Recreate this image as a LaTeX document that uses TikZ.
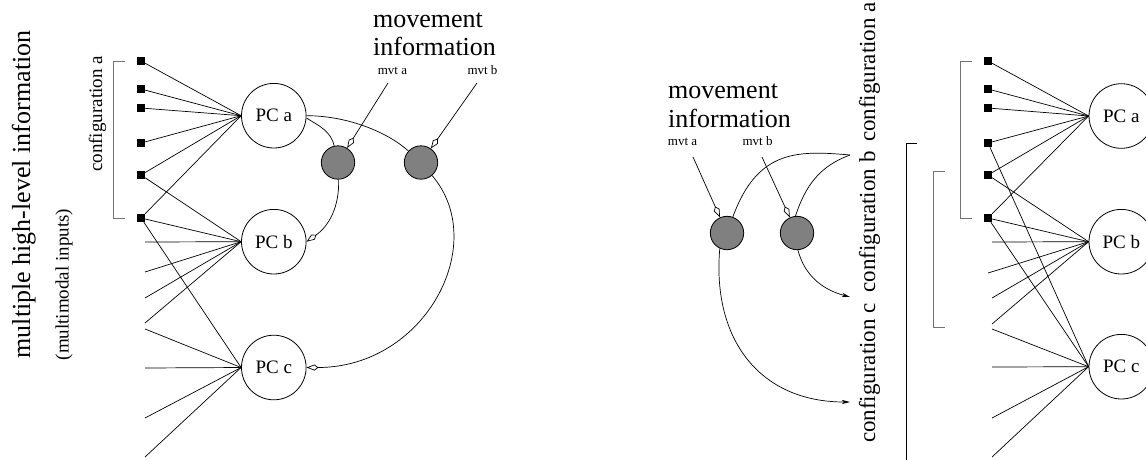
\documentclass[tikz,border=0pt]{standalone}
\usepackage{fontspec}
\setmainfont{Liberation Serif}
\usetikzlibrary{arrows.meta}
\begin{document}
\begin{tikzpicture}[x=1pt,y=1pt,
  pc/.style={circle,draw,line width=0.8pt,minimum size=64.6pt,inner sep=0pt,font=\fontsize{19}{21}\selectfont},
  gate/.style={circle,draw,line width=0.8pt,fill=black!50,minimum size=33.4pt,inner sep=0pt},
  sq/.style={rectangle,fill=black,minimum size=8pt,inner sep=0pt},
  wire/.style={line width=0.7pt},
  kite/.style={-{Kite[open,length=12pt,width=6pt,inset=4pt,line width=0.7pt]}},
  stl/.style={-{Stealth[length=8pt,width=4pt,inset=2pt]}},
  brk/.style={line width=0.8pt,draw=black!55},
  bigtxt/.style={inner sep=0pt,font=\fontsize{26}{28}\selectfont},
  midtxt/.style={inner sep=0pt,font=\fontsize{19}{21}\selectfont},
  conftxt/.style={inner sep=0pt,font=\fontsize{23}{25}\selectfont},
  tinytxt/.style={inner sep=0pt,font=\fontsize{13}{15}\selectfont}]
\useasboundingbox (0,0) rectangle (1146,-459);

% ---------------- left panel ----------------
\node[pc] (pca) at (273.8,-115.7) {PC a};
\node[pc] (pcb) at (273.8,-241.7) {PC b};
\node[pc] (pcc) at (273.8,-367.5) {PC c};
\node[gate] (ga) at (338,-162.5) {};
\node[gate] (gb) at (421,-162.5) {};
\foreach \i/\y in {1/61,2/89,3/108,4/143,5/175,6/218}
  \node[sq] (ls\i) at (141,-\y) {};
\foreach \i/\y in {1/242,2/272,3/298,4/323,5/329,6/368,7/418,8/457}
  \coordinate (le\i) at (145,-\y);
\foreach \i in {1,...,6} \draw[wire] (ls\i) -- (pca.west);
\foreach \n in {ls5,ls6,le1,le2,le3,le4} \draw[wire] (\n) -- (pcb.west);
\foreach \n in {ls6,le5,le6,le7,le8} \draw[wire] (\n) -- (pcc.west);

\draw[wire] (pca.-4) to[out=-32,in=103] (ga);
\draw[wire,kite] (ga) to[out=-88,in=35] (pcb.east);
\draw[wire] (pca.east) .. controls (348.2,-115.7) and (388.2,-132.6) .. (gb);
\draw[wire,kite] (gb) .. controls (490.5,-244) and (425,-367.5) .. (pcc.east);

\coordinate (ma) at (388,-83);
\coordinate (mb) at (477,-83);
\draw[wire,kite] (ma) -- (ga);
\draw[wire,kite] (mb) -- (gb);

\node[bigtxt,anchor=base west] (mvL1) at (373,-27) {movement};
\node[bigtxt,anchor=base west] (mvL2) at (373,-55) {information};
\node[tinytxt,anchor=base] (mvtaL) at (392.5,-74) {mvt a};
\node[tinytxt,anchor=base] (mvtbL) at (482.5,-74) {mvt b};

\node[bigtxt,rotate=90,anchor=base] (multi) at (30,-194.5) {multiple high-level information};
\node[midtxt,rotate=90,anchor=base] (mmodal) at (68.5,-284.5) {(multimodal inputs)};
\node[midtxt,rotate=90,anchor=base] (cfgL) at (102,-114) {configuration a};
\draw[brk] (125,-61) -- (113,-61) -- (113,-218) -- (125,-218);

% ---------------- right panel ----------------
\node[pc] (rpca) at (1121.3,-116) {PC a};
\node[pc] (rpcb) at (1121.3,-241.7) {PC b};
\node[pc] (rpcc) at (1121.3,-366.7) {PC c};
\node[gate] (rga) at (727,-233) {};
\node[gate] (rgb) at (797,-233) {};
\foreach \i/\y in {1/61,2/89,3/108,4/143,5/175,6/218}
  \node[sq] (rs\i) at (988,-\y) {};
\foreach \i/\x/\y in {1/992/242,2/988/273,3/992/298,4/992/324,5/992/329,6/992/367,7/992/418,8/992/457}
  \coordinate (re\i) at (\x,-\y);
\foreach \i in {1,...,6} \draw[wire] (rs\i) -- (rpca.west);
\foreach \n in {rs5,rs6,re1,re2,re3,re4} \draw[wire] (\n) -- (rpcb.west);
\foreach \n in {rs4,rs6,re5,re6,re7,re8} \draw[wire] (\n) -- (rpcc.west);

\draw[brk] (972,-61) -- (960,-61) -- (960,-218) -- (972,-218);
\draw[brk] (945,-171) -- (933,-171) -- (933,-327) -- (945,-327);
\draw[line width=0.8pt] (917,-143) -- (906,-143) -- (906,-462);

\coordinate (rma) at (693,-157);
\coordinate (rmb) at (762,-157);
\draw[wire,kite] (rma) -- (rga);
\draw[wire,kite] (rmb) -- (rgb);

\coordinate (cfa) at (850,-155);
\coordinate (cfb) at (850,-297);
\coordinate (cfc) at (850,-402);
\draw[wire] (rga) to[out=70,in=175,out looseness=1.4] (cfa);
\draw[wire] (rgb.95) to[out=72,in=200] (cfa);
\draw[wire,stl] (rgb.-87) to[out=-75,in=165] (cfb);
\draw[wire,stl] (rga.-115) to[out=-95,in=180,looseness=1.15] (cfc);

\node[bigtxt,anchor=base west] (mvR1) at (668,-98) {movement};
\node[bigtxt,anchor=base west] (mvR2) at (668,-127) {information};
\node[tinytxt,anchor=base] (mvtaR) at (682.5,-145) {mvt a};
\node[tinytxt,anchor=base] (mvtbR) at (757.5,-145) {mvt b};

\node[conftxt,rotate=90,anchor=base] (cfgA) at (875,-72) {configuration a};
\node[conftxt,rotate=90,anchor=base] (cfgB) at (875,-222) {configuration b};
\node[conftxt,rotate=90,anchor=base] (cfgC) at (875,-373) {configuration c};
\end{tikzpicture}
\end{document}
